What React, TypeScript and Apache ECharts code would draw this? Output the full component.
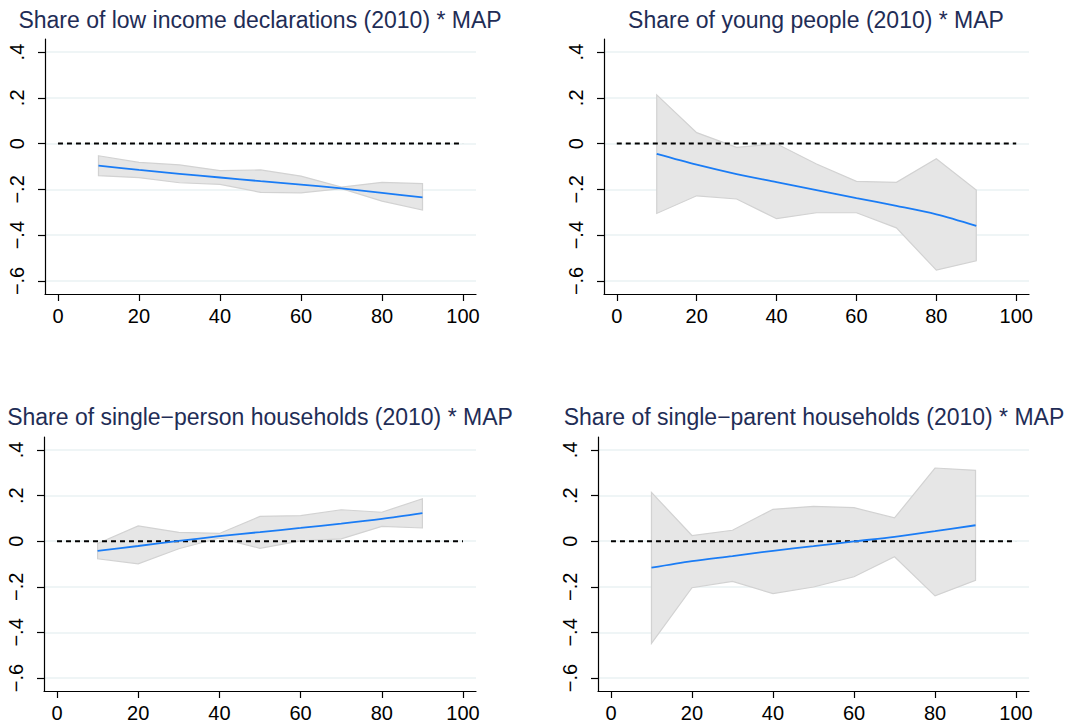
import React, { useRef, useEffect } from 'react';
import * as echarts from 'echarts';

// panel titles
const titles = [
  'Share of low income declarations (2010) * MAP',
  'Share of young people (2010) * MAP',
  'Share of single\u2212person households (2010) * MAP',
  'Share of single\u2212parent households (2010) * MAP',
];

const xPoints = [10, 20, 30, 40, 50, 60, 70, 80, 90];
const xTicks = [0, 20, 40, 60, 80, 100];
const yTicks = [-0.6, -0.4, -0.2, 0, 0.2, 0.4];

// panel 1: low income declarations
const lowIncomeFit = [-0.096, -0.115, -0.132, -0.148, -0.164, -0.179, -0.196, -0.215, -0.235];
const lowIncomeUpper = [-0.053, -0.082, -0.093, -0.118, -0.115, -0.142, -0.190, -0.169, -0.175];
const lowIncomeLower = [-0.140, -0.149, -0.171, -0.178, -0.213, -0.215, -0.197, -0.251, -0.290];

// panel 2: young people
const youngFit = [-0.045, -0.092, -0.133, -0.168, -0.203, -0.238, -0.272, -0.309, -0.359];
const youngUpper = [0.213, 0.048, -0.016, -0.001, -0.089, -0.165, -0.169, -0.066, -0.203];
const youngLower = [-0.305, -0.228, -0.242, -0.328, -0.302, -0.302, -0.368, -0.553, -0.512];

// panel 3: single-person households
const singlePersonFit = [-0.042, -0.021, 0.001, 0.022, 0.040, 0.058, 0.077, 0.098, 0.123];
const singlePersonUpper = [-0.010, 0.067, 0.039, 0.034, 0.109, 0.112, 0.138, 0.127, 0.186];
const singlePersonLower = [-0.077, -0.099, -0.033, 0.014, -0.031, 0.001, 0.010, 0.065, 0.058];

// panel 4: single-parent households
const singleParentFit = [-0.116, -0.087, -0.065, -0.042, -0.022, -0.001, 0.019, 0.044, 0.070];
const singleParentUpper = [0.214, 0.025, 0.048, 0.140, 0.153, 0.147, 0.102, 0.321, 0.311];
const singleParentLower = [-0.448, -0.204, -0.176, -0.230, -0.201, -0.156, -0.068, -0.240, -0.172];

const panels = [
  { fit: lowIncomeFit, upper: lowIncomeUpper, lower: lowIncomeLower },
  { fit: youngFit, upper: youngUpper, lower: youngLower },
  { fit: singlePersonFit, upper: singlePersonUpper, lower: singlePersonLower },
  { fit: singleParentFit, upper: singleParentUpper, lower: singleParentLower },
];

const grids = [
  { left: 45, top: 39, width: 431, height: 255 },
  { left: 604, top: 39, width: 425, height: 255 },
  { left: 44, top: 437, width: 432, height: 254 },
  { left: 598, top: 437, width: 431, height: 254 },
];
const titlePos = [
  [260, 20],
  [816, 20],
  [260, 417],
  [814, 417],
];

const FONT = '"Liberation Sans", Arial, Helvetica, sans-serif';

const fmtY = (v: number) => {
  if (Math.abs(v) < 1e-9) return '0';
  return (v < 0 ? '\u2212' : '') + Math.abs(v).toFixed(1).replace(/^0/, '');
};

export default function App() {
  const chartRef = useRef<HTMLDivElement>(null);

  useEffect(() => {
    if (!chartRef.current) return;
    const chart = echarts.init(chartRef.current, null, { renderer: 'svg' });

    const xAxis: any[] = [];
    const yAxis: any[] = [];
    const series: any[] = [];

    panels.forEach((p, i) => {
      xAxis.push({
        type: 'value',
        gridIndex: i,
        min: -3.2,
        max: 103.2,
        axisLine: { show: true, onZero: false, lineStyle: { color: '#000', width: 1.2 } },
        axisTick: { show: true, length: 7, customValues: xTicks, lineStyle: { color: '#000', width: 1.2 } },
        axisLabel: { customValues: xTicks, fontSize: 20, color: '#000', fontFamily: FONT, margin: 12 },
        splitLine: { show: false },
      });
      yAxis.push({
        type: 'value',
        gridIndex: i,
        min: -0.657,
        max: 0.457,
        axisLine: { show: true, onZero: false, lineStyle: { color: '#000', width: 1.2 } },
        axisTick: { show: true, length: 7, customValues: yTicks, lineStyle: { color: '#000', width: 1.2 } },
        axisLabel: {
          customValues: yTicks,
          rotate: 90,
          fontSize: 20,
          color: '#000',
          fontFamily: FONT,
          margin: 18,
          formatter: fmtY,
        },
        splitLine: { show: true, lineStyle: { color: '#eaf2f3', width: 1.5 } },
      });

      // confidence band
      series.push({
        type: 'custom',
        xAxisIndex: i,
        yAxisIndex: i,
        data: xPoints.map((x, k) => [x, p.lower[k], p.upper[k]]),
        renderItem: (params: any, api: any) => {
          if (params.dataIndex !== 0) return null;
          const pts: number[][] = [];
          xPoints.forEach((x, k) => pts.push(api.coord([x, p.upper[k]])));
          for (let k = xPoints.length - 1; k >= 0; k--) pts.push(api.coord([xPoints[k], p.lower[k]]));
          return {
            type: 'polygon',
            shape: { points: pts },
            style: { fill: '#e6e6e6', stroke: '#d2d2d2', lineWidth: 1.2 },
          };
        },
        z: 1,
      });

      // zero reference line
      series.push({
        type: 'line',
        xAxisIndex: i,
        yAxisIndex: i,
        data: [[0, 0], [100, 0]],
        symbol: 'none',
        lineStyle: { color: '#000', width: 2, type: [5, 4] },
        z: 2,
      });

      // fitted line
      series.push({
        type: 'line',
        xAxisIndex: i,
        yAxisIndex: i,
        data: xPoints.map((x, k) => [x, p.fit[k]]),
        symbol: 'none',
        smooth: 0.3,
        lineStyle: { color: '#1a7cf5', width: 1.8 },
        z: 3,
      });
    });

    chart.setOption({
      animation: false,
      backgroundColor: '#fff',
      grid: grids.map((g) => ({ ...g, containLabel: false })),
      xAxis,
      yAxis,
      series,
      graphic: titles.map((t, i) => ({
        type: 'text',
        x: titlePos[i][0],
        y: titlePos[i][1],
        style: {
          text: t,
          fill: '#1f2d56',
          font: `23px ${FONT}`,
          textAlign: 'center',
          textVerticalAlign: 'middle',
        },
      })),
    });

    return () => {
      chart.dispose();
    };
  }, []);

  return (
    <div
      ref={chartRef}
      style={{ position: 'fixed', left: 0, top: 0, width: '1089px', height: '726px' }}
    />
  );
}
